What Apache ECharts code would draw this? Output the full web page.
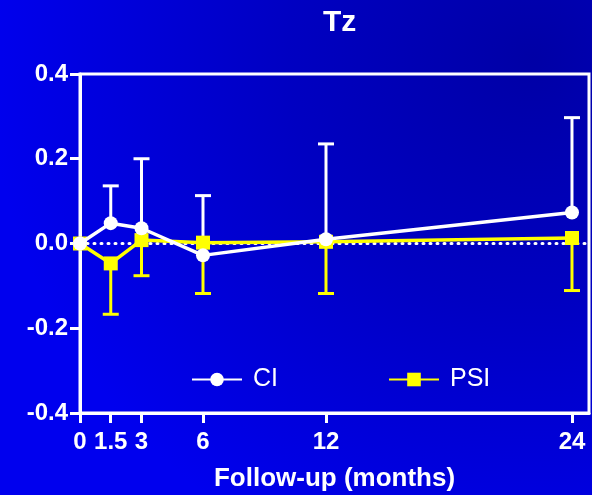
<!DOCTYPE html>
<html>
<head>
<meta charset="utf-8">
<script src="https://cdn.jsdelivr.net/npm/echarts@6/dist/echarts.min.js"></script>
<style>
html,body{margin:0;padding:0;background:#0000d0;}
#chart{width:592px;height:495px;}
</style>
</head>
<body>
<div id="chart"></div>
<script>
// Data
const months = [0, 1.5, 3, 6, 12, 24];
const ciMean = [0, 0.048, 0.036, -0.028, 0.010, 0.073];
const ciUpper = [0, 0.136, 0.200, 0.113, 0.235, 0.297];
const psiMean = [0, -0.047, 0.008, 0.002, 0.004, 0.013];
const psiLower = [0, -0.167, -0.076, -0.118, -0.118, -0.111];
const xTicks = [0, 1.5, 3, 6, 12, 24];
const yTicks = [-0.4, -0.2, 0, 0.2, 0.4];
const xMax = 24.83;

const FONT = '"Liberation Sans", Arial, sans-serif';

function pairs(xs, ys) { return xs.map((x, i) => [x, ys[i]]); }
function errData(xs, m, b) { return xs.map((x, i) => [x, m[i], b[i]]).filter((d, i) => i > 0); }

function errorBar(color) {
  return function (params, api) {
    const x = api.value(0);
    const p0 = api.coord([x, api.value(1)]);
    const p1 = api.coord([x, api.value(2)]);
    const hw = 8;
    return {
      type: 'group',
      children: [
        { type: 'line', shape: { x1: p0[0], y1: p0[1], x2: p1[0], y2: p1[1] }, style: { stroke: color, lineWidth: 3 } },
        { type: 'line', shape: { x1: p1[0] - hw, y1: p1[1], x2: p1[0] + hw, y2: p1[1] }, style: { stroke: color, lineWidth: 3 } }
      ]
    };
  };
}

const chart = echarts.init(document.getElementById('chart'), null, { renderer: 'canvas' });
chart.setOption({
  animation: false,
  backgroundColor: {
    type: 'radial', x: 0.9, y: 0.12, r: 1.1,
    colorStops: [
      { offset: 0, color: '#0000a6' },
      { offset: 0.45, color: '#0000c2' },
      { offset: 1, color: '#0000ee' }
    ]
  },
  title: {
    text: 'Tz', left: 318, top: 3,
    textStyle: { color: '#fff', fontSize: 30, fontWeight: 'bold', fontFamily: FONT }
  },
  legend: [
    {
      data: ['CI'], left: 186, top: 362, itemWidth: 50, itemHeight: 17,
      textStyle: { color: '#fff', fontSize: 25, fontFamily: FONT, padding: [0, 0, 0, 6] },
      selectedMode: false
    },
    {
      data: ['PSI'], left: 383, top: 362, itemWidth: 50, itemHeight: 17,
      textStyle: { color: '#fff', fontSize: 25, fontFamily: FONT, padding: [0, 0, 0, 6] },
      selectedMode: false
    }
  ],
  grid: {
    left: 80, right: 3, top: 74, bottom: 82,
    show: true, borderColor: '#fff', borderWidth: 3, backgroundColor: 'transparent',
    containLabel: false, outerBoundsMode: 'none'
  },
  xAxis: {
    type: 'value', min: 0, max: xMax,
    name: 'Follow-up (months)', nameLocation: 'middle', nameGap: 53,
    nameTextStyle: { color: '#fff', fontSize: 26, fontWeight: 'bold', fontFamily: FONT },
    axisLine: { onZero: false, lineStyle: { color: '#fff', width: 3 } },
    axisTick: { show: true, inside: false, length: 10, lineStyle: { color: '#fff', width: 3 }, customValues: xTicks },
    axisLabel: {
      color: '#fff', fontSize: 24, fontWeight: 'bold', fontFamily: FONT, margin: 17, inside: false,
      customValues: xTicks, formatter: v => String(v)
    },
    splitLine: { show: false }
  },
  yAxis: {
    type: 'value', min: -0.4, max: 0.4, interval: 0.2,
    axisLine: { show: true, onZero: false, lineStyle: { color: '#fff', width: 3 } },
    axisTick: { show: true, inside: false, length: 10, lineStyle: { color: '#fff', width: 3 } },
    axisLabel: {
      color: '#fff', fontSize: 24, fontWeight: 'bold', fontFamily: FONT, margin: 12, inside: false,
      formatter: v => v.toFixed(1)
    },
    splitLine: { show: false }
  },
  series: [
    {
      name: 'zero', type: 'line', data: [[0, 0], [xMax, 0]], symbol: 'none', silent: true, z: 1,
      lineStyle: { color: '#fff', width: 3, type: [1, 6], cap: 'round' }
    },
    {
      name: 'PSIerr', type: 'custom', renderItem: errorBar('#ffff00'), data: errData(months, psiMean, psiLower), z: 2,
      encode: { x: 0, y: [1, 2] }
    },
    {
      name: 'CIerr', type: 'custom', renderItem: errorBar('#ffffff'), data: errData(months, ciMean, ciUpper), z: 2,
      encode: { x: 0, y: [1, 2] }
    },
    {
      name: 'PSI', type: 'line', data: pairs(months, psiMean), z: 3,
      symbol: 'rect', symbolSize: 14, showAllSymbol: true,
      lineStyle: { color: '#ffff00', width: 3.5 },
      itemStyle: { color: '#ffff00' }
    },
    {
      name: 'CI', type: 'line', data: pairs(months, ciMean), z: 4,
      symbol: 'circle', symbolSize: 14, showAllSymbol: true,
      lineStyle: { color: '#ffffff', width: 3.5 },
      itemStyle: { color: '#ffffff' }
    }
  ]
});
</script>
</body>
</html>
